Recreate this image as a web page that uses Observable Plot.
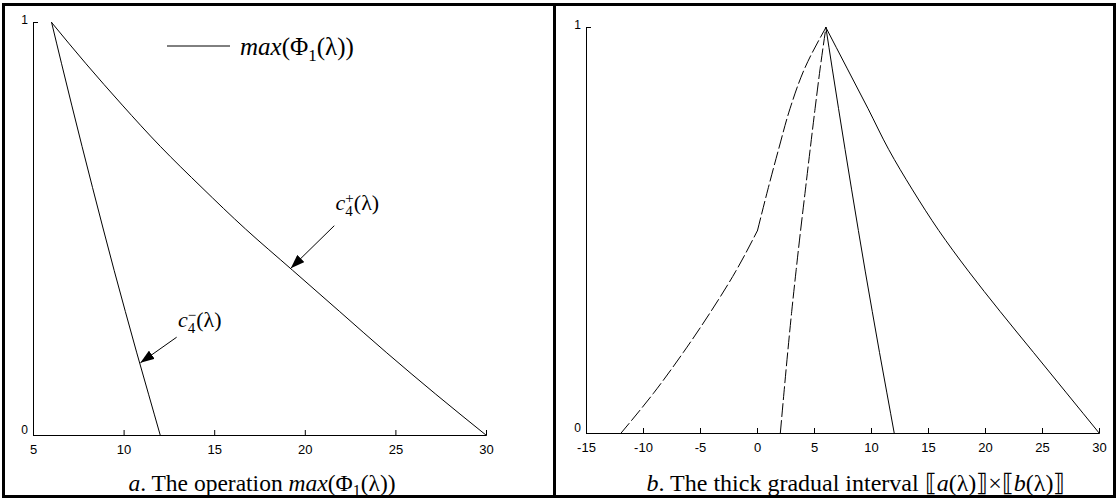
<!DOCTYPE html>
<html>
<head>
<meta charset="utf-8">
<title>Thick gradual intervals</title>
<script src="https://cdn.jsdelivr.net/npm/d3@7"></script>
<script src="https://cdn.jsdelivr.net/npm/@observablehq/plot@0.6"></script>
<style>
  html, body { margin: 0; padding: 0; background: #fff; }
  #figure { position: relative; width: 1118px; height: 500px; overflow: hidden; background: #fff; }
  .panel { position: absolute; top: 0; }
  .frame { position: absolute; left: 2px; top: 3px; width: 1108px; height: 489px; border: 3px solid #000; pointer-events: none; }
  .divider { position: absolute; left: 553px; top: 3px; width: 3px; height: 495px; background: #000; }
</style>
</head>
<body>
<div id="figure">
  <div class="panel" id="panel-a" style="left:0px"></div>
  <div class="panel" id="panel-b" style="left:554px"></div>
  <div class="frame"></div>
  <div class="divider"></div>
</div>
<script>
// membership levels λ at which the interval bounds are sampled
const lambda = [0, 0.1, 0.2, 0.3, 0.4, 0.5, 0.6, 0.7, 0.8, 0.9, 1];

// (a) the operation max(Φ1(λ)): bounds c4−(λ) and c4+(λ)
const c4Plus  = [30, 27.2, 24.5, 21.9, 19.3, 16.7, 14.3, 12.0, 9.9, 7.9, 6];
const c4Minus = [12, 11.35, 10.7, 10.07, 9.45, 8.85, 8.26, 7.68, 7.11, 6.55, 6];
const ticksA = [5, 10, 15, 20, 25, 30];

// (b) the thick gradual interval [[a(λ)]]×[[b(λ)]]: outer and inner bounds
const outerLower = [-12, -9.1, -6.5, -4.1, -1.9, 0, 0.9, 1.85, 2.85, 4.15, 6];
const innerLower = [2, 2.32, 2.65, 3.0, 3.38, 3.78, 4.2, 4.62, 5.05, 5.5, 6];
const innerUpper = [12, 11.35, 10.7, 10.07, 9.45, 8.85, 8.26, 7.68, 7.11, 6.55, 6];
const outerUpper = [30, 27.1, 24.2, 21.3, 18.5, 15.9, 13.6, 11.5, 9.7, 7.85, 6];
const ticksB = [-15, -10, -5, 0, 5, 10, 15, 20, 25, 30];

const ticksY = [0, 1];

// arrows pointing at the two curves of panel (a): tail (x1,y1), head (x2,y2), label (lx,ly)
const notesA = [
  {sign: "+", x1: 21.6, y1: 0.508, x2: 19.2, y2: 0.405, lx: 21.7, ly: 0.545},
  {sign: "\u2212", x1: 12.9, y1: 0.238, x2: 10.9, y2: 0.176, lx: 13.0, ly: 0.262}
];

const sans = "'Liberation Sans', Arial, sans-serif";
const serif = "'Liberation Serif', 'Times New Roman', serif";
const ink = "#000";

// axis lines, inward ticks and tick labels in the style of the figure
function axisMarks(x0, x1, ticks) {
  return [
    Plot.ruleY([0], {x1: x0, x2: x1, stroke: ink}),
    Plot.ruleX([x0], {y1: 0, y2: 1, stroke: ink}),
    Plot.ruleX(ticks, {x: d => d, y1: 0, y2: 0, insetBottom: 5, stroke: ink}),
    Plot.ruleY([1], {x1: x0, x2: x0, insetRight: -5, stroke: ink}),
    Plot.text(ticks, {x: d => d, y: 0, dy: 14, text: d => String(d), fontFamily: sans, fontSize: 13, fill: ink}),
    Plot.text(ticksY.filter(d => d === 1), {x: x0, y: d => d, dx: -9, dy: -2, text: d => String(d), fontFamily: sans, fontSize: 12, fill: ink}),
    Plot.text(ticksY.filter(d => d === 0), {x: x0, y: d => d, dx: -9, dy: -5, text: d => String(d), fontFamily: sans, fontSize: 12, fill: ink})
  ];
}

// serif text with italic runs and sub/superscripts
function richText(parent, x, y, parts, {size = 22, anchor = "start"} = {}) {
  const t = parent.append("text")
    .attr("x", x).attr("y", y)
    .attr("font-family", serif).attr("font-size", size)
    .attr("text-anchor", anchor).attr("fill", ink);
  let shift = 0;
  for (const p of parts) {
    const [str, opt] = typeof p === "string" ? [p, {}] : p;
    const s = t.append("tspan").text(str);
    const target = opt.shift || 0;
    if (target !== shift) { s.attr("dy", target - shift); shift = target; }
    if (opt.dx) s.attr("dx", opt.dx);
    if (opt.italic) s.attr("font-style", "italic");
    if (opt.size) s.attr("font-size", opt.size);
  }
  return t;
}

function arrowHead(svg, id) {
  d3.select(svg).append("defs").append("marker")
    .attr("id", id).attr("viewBox", "0 0 14 10")
    .attr("refX", 14).attr("refY", 5)
    .attr("markerWidth", 14).attr("markerHeight", 10)
    .attr("markerUnits", "userSpaceOnUse").attr("orient", "auto")
    .append("path").attr("d", "M0,0L14,5L0,10Z").attr("fill", ink);
  d3.select(svg).selectAll('g[aria-label="link"] path').attr("marker-end", `url(#${id})`);
}

// smooth bounds; the outer lower bound keeps its corner at λ = 0.5
const smooth = {stroke: ink, strokeWidth: 1, curve: "monotone-y"};

// ---- panel (a)
const rowsA = lambda.map((l, i) => ({lambda: l, plus: c4Plus[i], minus: c4Minus[i]}));

const plotA = Plot.plot({
  width: 552, height: 500,
  marginLeft: 33, marginRight: 66, marginTop: 22, marginBottom: 65,
  x: {domain: [5, 30], axis: null},
  y: {domain: [0, 1], axis: null},
  style: {background: "transparent", overflow: "visible"},
  marks: [
    ...axisMarks(5, 30, ticksA),
    Plot.line(rowsA, {x: "plus", y: "lambda", ...smooth}),
    Plot.line(rowsA, {x: "minus", y: "lambda", ...smooth}),
    Plot.link(notesA, {x1: "x1", y1: "y1", x2: "x2", y2: "y2", stroke: ink, strokeWidth: 1})
  ]
});
arrowHead(plotA, "head-a");

{
  const svg = d3.select(plotA);
  const X = plotA.scale("x"), Y = plotA.scale("y");
  for (const n of notesA) {
    richText(svg, X.apply(n.lx), Y.apply(n.ly), [
      ["c", {italic: true}],
      ["4", {shift: 6, size: 15}],
      [n.sign, {shift: -7, size: 15, dx: -7.5}],
      ["(\u03bb)", {shift: 0}]
    ]);
  }
  // legend
  const lg = svg.append("g").attr("aria-label", "legend");
  lg.append("line").attr("x1", 167).attr("x2", 230).attr("y1", 46).attr("y2", 46)
    .attr("stroke", ink).attr("stroke-width", 1);
  richText(lg, 240, 55, [
    ["max", {italic: true}], "(\u03a6",
    ["1", {shift: 6, size: 17}],
    ["(\u03bb))", {shift: 0}]
  ], {size: 25});
  // caption
  richText(svg, 262, 491, [
    ["a", {italic: true}], ". The operation ",
    ["max", {italic: true}], "(\u03a6",
    ["1", {shift: 5, size: 16}],
    ["(\u03bb))", {shift: 0}]
  ], {anchor: "middle", size: 23.5});
}
document.getElementById("panel-a").append(plotA);

// ---- panel (b)
const rowsB = lambda.map((l, i) => ({
  lambda: l, outerLower: outerLower[i], innerLower: innerLower[i],
  innerUpper: innerUpper[i], outerUpper: outerUpper[i]
}));

const dash = "13,4";
const plotB = Plot.plot({
  width: 562, height: 500,
  marginLeft: 32, marginRight: 17, marginTop: 27, marginBottom: 67,
  x: {domain: [-15, 30], axis: null},
  y: {domain: [0, 1], axis: null},
  style: {background: "transparent", overflow: "visible"},
  marks: [
    ...axisMarks(-15, 30, ticksB),
    Plot.line(rowsB.filter(d => d.lambda <= 0.5), {x: "outerLower", y: "lambda", ...smooth, strokeDasharray: dash}),
    Plot.line(rowsB.filter(d => d.lambda >= 0.5), {x: "outerLower", y: "lambda", ...smooth, strokeDasharray: dash}),
    Plot.line(rowsB, {x: "innerLower", y: "lambda", ...smooth, strokeDasharray: dash}),
    Plot.line(rowsB, {x: "innerUpper", y: "lambda", ...smooth}),
    Plot.line(rowsB, {x: "outerUpper", y: "lambda", ...smooth})
  ]
});

richText(d3.select(plotB), 302, 491, [
  ["b", {italic: true}], ". The thick gradual interval \u27e6",
  ["a", {italic: true}], "(\u03bb)\u27e7\u00d7\u27e6",
  ["b", {italic: true}], "(\u03bb)\u27e7"
], {anchor: "middle", size: 24});
document.getElementById("panel-b").append(plotB);
</script>
</body>
</html>
